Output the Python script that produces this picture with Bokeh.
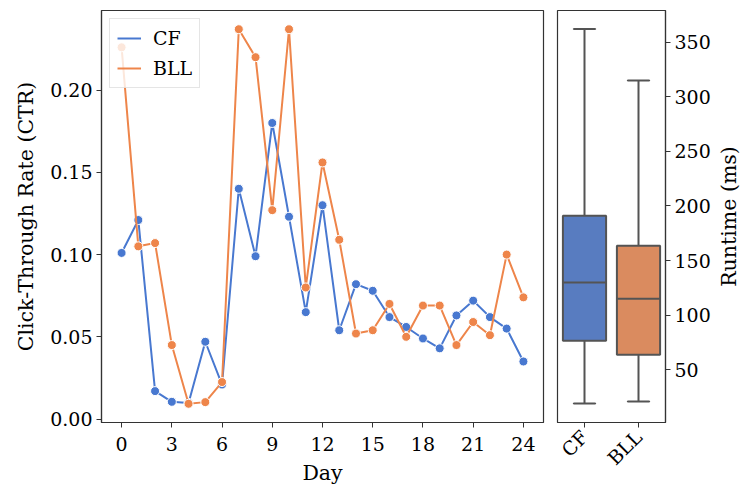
import math
from bokeh.plotting import figure
from bokeh.layouts import row
from bokeh.models import Range1d, FactorRange, FixedTicker, NumeralTickFormatter, Legend, LegendItem
from bokeh.embed import file_html
from bokeh.resources import INLINE

# ---------------- data ----------------
days = list(range(25))
ctr_cf = [0.101, 0.121, 0.017, 0.0105, 0.0098, 0.047, 0.021, 0.140, 0.099, 0.180, 0.123,
          0.065, 0.130, 0.054, 0.082, 0.078, 0.062, 0.056, 0.049, 0.043, 0.063, 0.072,
          0.062, 0.055, 0.035]
ctr_bll = [0.226, 0.105, 0.107, 0.045, 0.0093, 0.0103, 0.0225, 0.237, 0.220, 0.127, 0.237,
           0.080, 0.156, 0.109, 0.052, 0.054, 0.070, 0.050, 0.069, 0.069, 0.045, 0.059,
           0.051, 0.100, 0.074]
methods = ["CF", "BLL"]
rt_low = [19, 21]
rt_q1 = [76.6, 63.7]
rt_med = [130, 115]
rt_q3 = [191, 163.5]
rt_high = [362, 315]

x_ticks = [0, 3, 6, 9, 12, 15, 18, 21, 24]
y_ticks = [0.0, 0.05, 0.10, 0.15, 0.20]
rt_ticks = [50, 100, 150, 200, 250, 300, 350]
rt_label = "Runtime (ms)"

FONT = "DejaVu Serif"
FS = "19px"
FS_LABEL = "20.5px"
C_CF = "#4878d0"
C_BLL = "#ee854a"
BOX_CF = "#587cc0"
BOX_BLL = "#da8b5f"
EDGE = "#545454"
SPINE = "#333333"


def style_axes(p):
    for ax in list(p.xaxis) + list(p.yaxis):
        ax.major_label_text_font = FONT
        ax.major_label_text_font_size = FS
        ax.major_label_text_color = "black"
        ax.axis_label_text_font = FONT
        ax.axis_label_text_font_size = FS_LABEL
        ax.axis_label_text_font_style = "normal"
        ax.axis_label_text_color = "black"
        ax.minor_tick_line_color = None
        ax.major_tick_in = 0
        ax.major_tick_out = 5
        ax.major_tick_line_color = SPINE
        ax.axis_line_color = SPINE
        ax.axis_line_width = 1.2
    p.xgrid.grid_line_color = None
    p.ygrid.grid_line_color = None
    p.outline_line_color = SPINE
    p.outline_line_width = 1.2
    p.outline_line_alpha = 1.0


# ---------------- left: CTR line chart ----------------
allv = ctr_cf + ctr_bll
lo, hi = min(allv), max(allv)
pad = 0.05 * (hi - lo)

p1 = figure(width=550, height=487, output_backend="svg", toolbar_location=None,
            x_range=Range1d(-1.2, 25.2), y_range=Range1d(lo - pad, hi + pad),
            min_border_left=101, min_border_right=7, min_border_top=10, min_border_bottom=65)
p1.xaxis.axis_label = "Day"
p1.yaxis.axis_label = "Click-Through Rate (CTR)"
p1.xaxis.ticker = FixedTicker(ticks=x_ticks)
p1.yaxis.ticker = FixedTicker(ticks=y_ticks)
p1.yaxis.formatter = NumeralTickFormatter(format="0.00")
p1.xaxis.major_label_standoff = 9
p1.yaxis.major_label_standoff = 4
p1.xaxis.axis_label_standoff = 7
p1.yaxis.axis_label_standoff = 9
style_axes(p1)

l_cf = p1.line(days, ctr_cf, line_color=C_CF, line_width=2)
p1.scatter(days, ctr_cf, size=9, fill_color=C_CF, line_color="white", line_width=1)
l_bll = p1.line(days, ctr_bll, line_color=C_BLL, line_width=2)
p1.scatter(days, ctr_bll, size=9, fill_color=C_BLL, line_color="white", line_width=1)

legend = Legend(items=[LegendItem(label="CF", renderers=[l_cf]),
                       LegendItem(label="BLL", renderers=[l_bll])],
                location="top_left")
legend.label_text_font = FONT
legend.label_text_font_size = FS
legend.label_text_color = "black"
legend.border_line_color = "#cccccc"
legend.border_line_width = 1.2
legend.background_fill_alpha = 0.8
legend.margin = 8
legend.padding = 7
legend.spacing = 6
legend.label_height = 24
legend.glyph_height = 24
legend.glyph_width = 24
legend.label_standoff = 12
p1.add_layout(legend)

# ---------------- right: runtime box plot ----------------
y2lo, y2hi = 1.7, 379
p2 = figure(width=163, height=487, output_backend="svg", toolbar_location=None,
            x_range=FactorRange(*methods, range_padding=0), y_range=Range1d(y2lo, y2hi),
            y_axis_location="right",
            min_border_left=7, min_border_right=46, min_border_top=10, min_border_bottom=65)
p2.yaxis.ticker = FixedTicker(ticks=rt_ticks)
p2.xaxis.major_label_orientation = math.pi / 4
p2.xaxis.major_label_standoff = 6
p2.yaxis.major_label_standoff = 4
style_axes(p2)

src = dict(m=methods, low=rt_low, q1=rt_q1, med=rt_med, q3=rt_q3, high=rt_high,
           fill=[BOX_CF, BOX_BLL])
# whiskers
p2.segment(x0="m", y0="q3", x1="m", y1="high", source=src, line_color=EDGE, line_width=2)
p2.segment(x0="m", y0="low", x1="m", y1="q1", source=src, line_color=EDGE, line_width=2)
# caps
p2.rect(x="m", y="high", width=0.4, height=0.001, source=src, line_color=EDGE, line_width=2, fill_color=None)
p2.rect(x="m", y="low", width=0.4, height=0.001, source=src, line_color=EDGE, line_width=2, fill_color=None)
# boxes
p2.vbar(x="m", bottom="q1", top="q3", width=0.8, source=src, fill_color="fill",
        line_color=EDGE, line_width=2)
# medians
p2.rect(x="m", y="med", width=0.8, height=0.001, source=src, line_color=EDGE, line_width=2, fill_color=None)

# ---------------- narrow strip carrying the runtime axis title (reads bottom-to-top) ----------------
p3 = figure(width=28, height=487, output_backend="svg", toolbar_location=None,
            x_range=Range1d(0, 1), y_range=Range1d(y2lo, y2hi), x_axis_location=None,
            min_border_left=27, min_border_right=0, min_border_top=10, min_border_bottom=65)
p3.outline_line_color = None
p3.xgrid.grid_line_color = None
p3.ygrid.grid_line_color = None
p3.yaxis.ticker = FixedTicker(ticks=[])
p3.yaxis.axis_label = rt_label
p3.yaxis.axis_label_text_font = FONT
p3.yaxis.axis_label_text_font_size = FS_LABEL
p3.yaxis.axis_label_text_font_style = "normal"
p3.yaxis.axis_label_text_color = "black"
p3.yaxis.axis_label_standoff = 0
p3.yaxis.major_label_standoff = 0
p3.yaxis.major_tick_out = 0
p3.yaxis.major_tick_in = 0
p3.yaxis.minor_tick_out = 0
p3.yaxis.minor_tick_in = 0
p3.yaxis.axis_line_color = None

layout = row(p1, p2, p3)
open("out.html", "w").write(file_html(layout, INLINE))
